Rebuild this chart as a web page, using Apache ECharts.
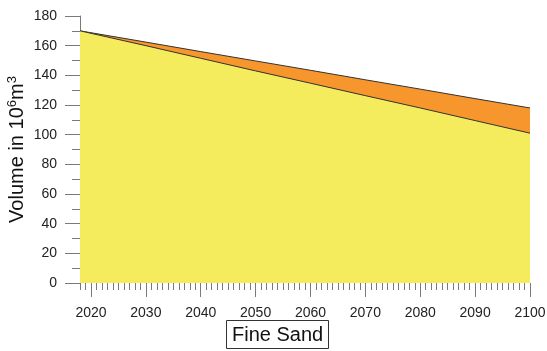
<!DOCTYPE html>
<html>
<head>
<meta charset="utf-8">
<script src="https://cdn.jsdelivr.net/npm/echarts@6/dist/echarts.min.js"></script>
<style>
  html, body { margin: 0; padding: 0; background: #fff; }
  #chart { width: 547px; height: 351px; }
</style>
</head>
<body>
<div id="chart"></div>
<script>
// Sand volume projections (10^6 m^3)
const years = [2018, 2030, 2040, 2050, 2060, 2070, 2080, 2090, 2100];
const lowerVolume = [170, 160, 151.5, 143, 134.7, 126.3, 118, 109.5, 101];
const upperVolume = [170, 162.4, 156, 149.7, 143.4, 137, 130.7, 124.3, 118];

const majorYears = [2020, 2030, 2040, 2050, 2060, 2070, 2080, 2090, 2100];
const minorYears = [];
for (let y = 2018; y <= 2100; y++) minorYears.push(y);

const chart = echarts.init(document.getElementById('chart'));
const font = 'Liberation Sans, Arial, sans-serif';
const tickGray = '#7a7a7a';

chart.setOption({
  animation: false,
  title: {
    text: 'Fine Sand',
    left: 226,
    top: 320,
    borderColor: '#333',
    borderWidth: 1,
    padding: [5, 6, 4, 6],
    textStyle: { fontFamily: font, fontSize: 20, fontWeight: 'normal', color: '#111' }
  },
  grid: { left: 80, right: 17, top: 16, bottom: 68, outerBoundsMode: 'none', containLabel: false },
  xAxis: [
    {
      type: 'value', min: 2018, max: 2100,
      axisLine: { show: false },
      splitLine: { show: false },
      axisTick: { show: true, length: 14, customValues: majorYears, lineStyle: { color: tickGray } },
      axisLabel: {
        customValues: majorYears, margin: 23,
        fontFamily: font, fontSize: 14, color: '#222',
        formatter: v => String(v)
      }
    },
    {
      type: 'value', min: 2018, max: 2100, position: 'bottom',
      axisLine: { show: false },
      splitLine: { show: false },
      axisTick: { show: true, length: 7, customValues: minorYears, lineStyle: { color: tickGray } },
      axisLabel: { show: false }
    }
  ],
  yAxis: {
    type: 'value', min: 0, max: 180, interval: 20,
    name: 'Volume in 10{sup|6}m{sup|3}',
    nameLocation: 'middle',
    nameGap: 52,
    nameMoveOverlap: false,
    nameTextStyle: {
      fontFamily: font, fontSize: 20, color: '#111',
      rich: {
        sup: { fontFamily: font, fontSize: 13, color: '#111', verticalAlign: 'top', padding: [0, 0, 9, 0] }
      }
    },
    axisLine: { show: true, lineStyle: { color: tickGray } },
    splitLine: { show: false },
    axisTick: { show: true, length: 15, lineStyle: { color: tickGray } },
    minorTick: { show: true, splitNumber: 2, length: 8, lineStyle: { color: tickGray } },
    axisLabel: { fontFamily: font, fontSize: 14, color: '#222', margin: 23 }
  },
  series: [
    {
      type: 'line',
      xAxisIndex: 0,
      data: years.map((y, i) => [y, upperVolume[i]]),
      symbol: 'none',
      lineStyle: { color: '#333', width: 1 },
      areaStyle: { color: '#F7962C', opacity: 1 },
      z: 2
    },
    {
      type: 'line',
      xAxisIndex: 0,
      data: years.map((y, i) => [y, lowerVolume[i]]),
      symbol: 'none',
      lineStyle: { color: '#333', width: 1 },
      areaStyle: { color: '#F4EC5C', opacity: 1 },
      z: 3
    }
  ]
});
</script>
</body>
</html>
